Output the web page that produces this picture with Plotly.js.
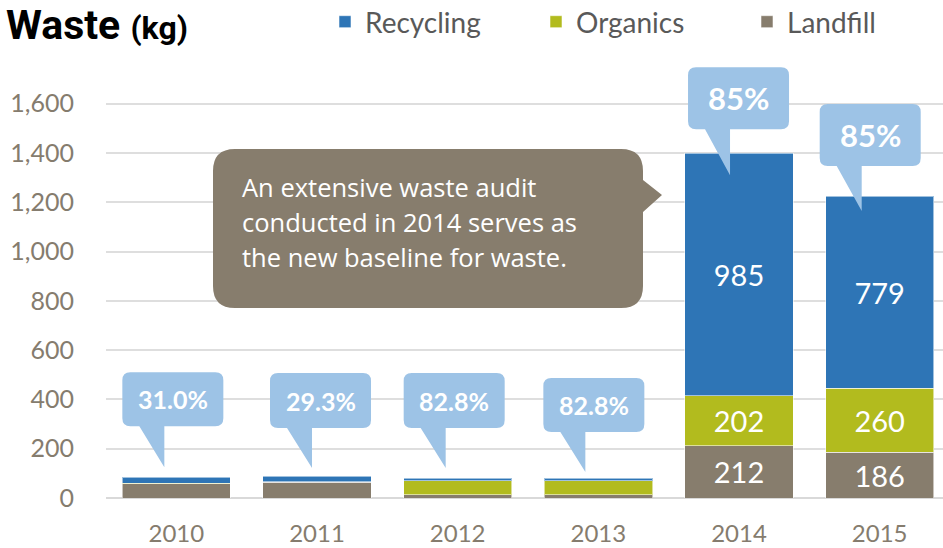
<!DOCTYPE html>
<html><head><meta charset="utf-8">
<script src="https://cdn.plot.ly/plotly-3.0.1.min.js"></script>
<style>html,body{margin:0;padding:0;background:#fff}#chart{width:943px;height:548px}</style>
</head><body><div id="chart"></div>
<script>
// ---- data ----
const years = ['2010','2011','2012','2013','2014','2015'];
const recycling = [24, 23, 11, 11, 985, 779];
const organics  = [2, 3, 56, 56, 202, 260];
const landfill  = [58, 63, 14, 14, 212, 186];
const diversionLabels = ['31.0%','29.3%','82.8%','82.8%','85%','85%'];
const seriesNames = ['Recycling','Organics','Landfill'];
const noteLines = ['An extensive waste audit','conducted in 2014 serves as','the new baseline for waste.'];

// ---- style / geometry ----
const W = 943, H = 548;
const M = {l:106, r:0, t:59, b:50, autoexpand:false};
const plotW = W - M.l - M.r, plotH = H - M.t - M.b;
const yScale = 419 / 1700;               // px per kg
const xRange = [-0.5, 5.45], yRange = [0, plotH / yScale];
const colors = {Recycling:'#2E75B6', Organics:'#B2BB1E', Landfill:'#877D6D'};
const bubbleColor = '#9DC3E6', noteColor = '#877D6D', axisText = '#857C6E';

const px2x = px => xRange[0] + (px - M.l) / plotW * (xRange[1] - xRange[0]);
const px2y = py => yRange[0] + (H - M.b - py) / plotH * (yRange[1] - yRange[0]);
const x2px = x => M.l + (x - xRange[0]) / (xRange[1] - xRange[0]) * plotW;
const y2px = y => H - M.b - (y - yRange[0]) / (yRange[1] - yRange[0]) * plotH;
const pX = px => (px - M.l) / plotW;
const pY = py => (H - M.b - py) / plotH;
const P = (px, py) => px2x(px) + ',' + px2y(py);

const xIdx = years.map((_, i) => i);
const totals = xIdx.map(i => recycling[i] + organics[i] + landfill[i]);
const labelOf = arr => arr.map(v => v >= 100 ? String(v) : '');

function barTrace(name, vals) {
  return {
    type: 'bar', name: name, x: xIdx, y: vals,
    marker: {color: colors[name], line: {width: 1, color: 'rgba(255,255,255,0.55)'}},
    text: labelOf(vals), textposition: 'inside', insidetextanchor: 'middle',
    textangle: 0, constraintext: 'none',
    textfont: {family: 'Lato, sans-serif', size: 29, color: '#ffffff'},
    hoverinfo: 'skip'
  };
}
const data = [
  barTrace('Landfill', landfill),
  barTrace('Organics', organics),
  barTrace('Recycling', recycling)
];

// bubble callouts (style offsets in px relative to each bar)
const bubbleStyle = [
  {dx:-54, tipDy:-10, ptr:41, h:54, fs:25},
  {dx:-47, tipDy:-8,  ptr:40, h:55, fs:25},
  {dx:-54, tipDy:-10, ptr:40, h:55, fs:25},
  {dx:-55, tipDy:-6,  ptr:40, h:54, fs:25},
  {dx:-51, tipDy:22,  ptr:46, h:62, fs:31},
  {dx:-60, tipDy:15,  ptr:45, h:62, fs:31}
];
const shapes = [], annotations = [];
xIdx.forEach(i => {
  const s = bubbleStyle[i];
  const c = x2px(i), T = y2px(totals[i]);
  const tipY = T + s.tipDy, bottom = tipY - s.ptr, top = bottom - s.h;
  const left = c + s.dx, right = left + 101, r = 8;
  const tipX = left + 42, base1 = left + 17;
  const path = 'M' + P(left + r, top) + ' L' + P(right - r, top) +
    ' Q' + P(right, top) + ' ' + P(right, top + r) +
    ' L' + P(right, bottom - r) + ' Q' + P(right, bottom) + ' ' + P(right - r, bottom) +
    ' L' + P(tipX, bottom) + ' L' + P(tipX, tipY) + ' L' + P(base1, bottom) +
    ' L' + P(left + r, bottom) + ' Q' + P(left, bottom) + ' ' + P(left, bottom - r) +
    ' L' + P(left, top + r) + ' Q' + P(left, top) + ' ' + P(left + r, top) + ' Z';
  shapes.push({type:'path', xref:'x', yref:'y', path: path, fillcolor: bubbleColor,
               line:{width:0}, layer:'above'});
  annotations.push({xref:'x', yref:'y', x: px2x((left + right) / 2), y: px2y((top + bottom) / 2),
    text: '<b>' + diversionLabels[i] + '</b>', showarrow:false, xanchor:'center', yanchor:'middle',
    font:{family:'Lato, sans-serif', size:s.fs, color:'#ffffff'}});
});

// note callout
(function(){
  const left = 213, right = 643, top = 149, bottom = 308, r = 22;
  const p1 = 180, tipX = 662, tipY = 195, p2 = 212;
  const path = 'M' + P(left + r, top) + ' L' + P(right - r, top) +
    ' Q' + P(right, top) + ' ' + P(right, top + r) +
    ' L' + P(right, p1) + ' L' + P(tipX, tipY) + ' L' + P(right, p2) +
    ' L' + P(right, bottom - r) + ' Q' + P(right, bottom) + ' ' + P(right - r, bottom) +
    ' L' + P(left + r, bottom) + ' Q' + P(left, bottom) + ' ' + P(left, bottom - r) +
    ' L' + P(left, top + r) + ' Q' + P(left, top) + ' ' + P(left + r, top) + ' Z';
  shapes.push({type:'path', xref:'x', yref:'y', path: path, fillcolor: noteColor,
               line:{width:0}, layer:'above'});
  noteLines.forEach((t, k) => {
    annotations.push({xref:'x', yref:'y', x: px2x(240), y: px2y(187 + 35 * k), text: t,
      showarrow:false, xanchor:'left', yanchor:'middle',
      font:{family:'Open Sans, sans-serif', size:25.5, color:'#ffffff'}});
  });
})();

// title
annotations.push({xref:'paper', yref:'paper', x: pX(5), y: pY(0), xanchor:'left', yanchor:'top',
  showarrow:false, borderpad:0,
  text:'<b>Waste</b> <b><span style="font-size:32px">(kg)</span></b>',
  font:{family:'Roboto, Liberation Sans, sans-serif', size:41, color:'#000000'}});

const layout = {
  width: W, height: H, margin: M,
  paper_bgcolor:'#ffffff', plot_bgcolor:'#ffffff',
  barmode:'stack', bargap:0.23,
  showlegend:true,
  legend:{orientation:'h', x: pX(325), xanchor:'left', y: pY(22), yanchor:'middle',
          traceorder:'reversed', itemwidth:30, entrywidth:166, entrywidthmode:'pixels',
          font:{family:'Lato, sans-serif', size:28, color:'#595959'}, bgcolor:'rgba(0,0,0,0)'},
  xaxis:{range:xRange, tickvals:xIdx, ticktext:years, showgrid:false, zeroline:false,
         showline:false, ticks:'', ticklabelstandoff:19,
         tickfont:{family:'Lato, sans-serif', size:24, color:axisText}, fixedrange:true},
  yaxis:{range:yRange, dtick:200, tick0:0, tickformat:',d', showgrid:true,
         gridcolor:'#DEDEDE', gridwidth:2, zeroline:true, zerolinecolor:'#D9D9D9', zerolinewidth:2,
         showline:false, ticks:'', ticklabelstandoff:31,
         tickfont:{family:'Lato, sans-serif', size:25, color:axisText}, fixedrange:true},
  shapes: shapes, annotations: annotations, hovermode:false
};
Plotly.newPlot('chart', data, layout, {displayModeBar:false, staticPlot:true});
</script>
</body></html>
